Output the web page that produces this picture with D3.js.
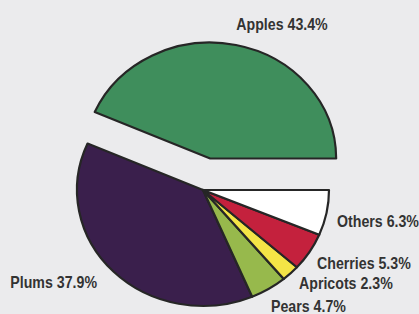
<!DOCTYPE html>
<html>
<head>
<meta charset="utf-8">
<script src="https://cdn.jsdelivr.net/npm/d3@7"></script>
<style>
    html, body { margin: 0; padding: 0; background: #ebebed; }
    svg { display: block; }
    .label { font-family: "Liberation Sans", Arial, "Helvetica", sans-serif; font-weight: bold; font-size: 16.5px; fill: #333; }
</style>
</head>
<body>
<svg id="chart" width="419" height="314"></svg>
<script>
// fruit shares, in percent
const fruits = ['Apples', 'Plums', 'Pears', 'Apricots', 'Cherries', 'Others'];
const shares = [43.4, 37.9, 4.7, 2.3, 5.3, 6.3];
const colors = ['#3f8e5c', '#3a1f4c', '#97b94c', '#f4e446', '#c4213d', '#ffffff'];
const exploded = ['Apples'];

// label placement (layout only)
const labelPos = [
    [282, 30, 'middle'],
    [97, 288, 'end'],
    [271, 312, 'start'],
    [299, 289, 'start'],
    [317, 269, 'start'],
    [337, 227, 'start']
];

const svg = d3.select("#chart");
const cx = 203, cy = 190;
const radius = 126;
const squash = 0.92;
const explodeDist = 35;
const narrow = 0.86; // fake condensed type

const data = fruits.map((f, i) => ({ name: f, value: shares[i], color: colors[i] }));

// start at 3 o'clock, go counter-clockwise
const pie = d3.pie()
    .value(d => d.value)
    .sort(null)
    .startAngle(Math.PI / 2)
    .endAngle(Math.PI / 2 - 2 * Math.PI);

const arc = d3.arc().innerRadius(0).outerRadius(radius);

const arcs = pie(data);

const g = svg.append("g")
    .attr("transform", `translate(${cx},${cy}) scale(1,${squash})`);

g.selectAll("path")
    .data(arcs)
    .enter().append("path")
    .attr("d", arc)
    .attr("transform", d => {
        if (!exploded.includes(d.data.name)) return null;
        const mid = (d.startAngle + d.endAngle) / 2;
        return `translate(${Math.sin(mid) * explodeDist},${-Math.cos(mid) * explodeDist})`;
    })
    .attr("fill", d => d.data.color)
    .attr("stroke", "#262626")
    .attr("stroke-width", 2.2)
    .attr("stroke-linejoin", "round")
    .attr("vector-effect", "non-scaling-stroke");

svg.append("g")
    .selectAll("g")
    .data(arcs)
    .enter().append("g")
    .attr("transform", (d, i) => `translate(${labelPos[i][0]},${labelPos[i][1]}) scale(${narrow},1)`)
    .append("text")
    .attr("class", "label")
    .attr("text-anchor", (d, i) => labelPos[i][2])
    .text(d => `${d.data.name} ${d.data.value}%`);
</script>
</body>
</html>
